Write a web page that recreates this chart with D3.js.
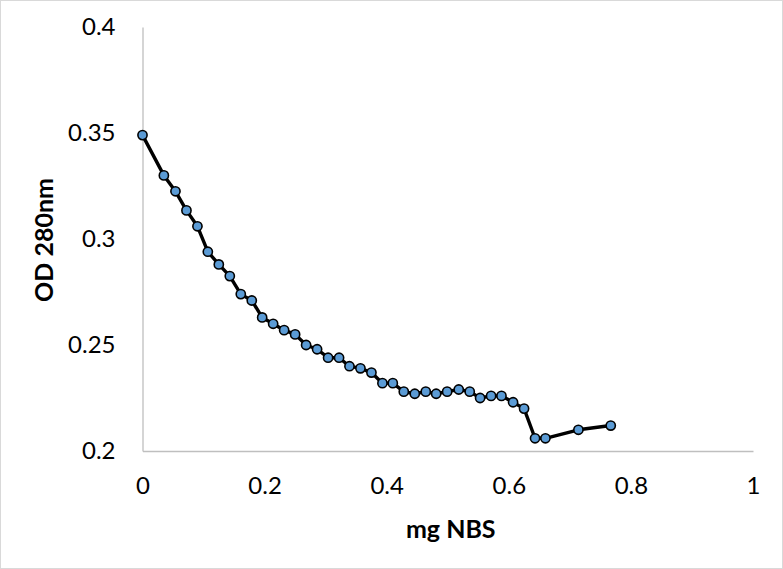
<!DOCTYPE html>
<html>
<head>
<meta charset="utf-8">
<script src="https://cdn.jsdelivr.net/npm/d3@7"></script>
<style>
  body { margin: 0; background: #fff; }
  text { font-family: Lato, "Noto Sans", sans-serif; }
</style>
</head>
<body>
<div id="chart"></div>
<script>
// values
const mgNBS = [0, 0.035, 0.054, 0.072, 0.090, 0.107, 0.125, 0.143, 0.161, 0.179,
  0.196, 0.214, 0.232, 0.250, 0.268, 0.286, 0.304, 0.322, 0.339, 0.357,
  0.375, 0.393, 0.410, 0.428, 0.446, 0.464, 0.481, 0.499, 0.518, 0.536,
  0.553, 0.571, 0.588, 0.607, 0.625, 0.643, 0.660, 0.714, 0.767];
const od280 = [0.349, 0.330, 0.3225, 0.3135, 0.306, 0.294, 0.288, 0.2825, 0.274, 0.271,
  0.263, 0.260, 0.257, 0.255, 0.250, 0.248, 0.244, 0.244, 0.240, 0.239,
  0.237, 0.232, 0.232, 0.228, 0.227, 0.228, 0.227, 0.228, 0.229, 0.228,
  0.225, 0.226, 0.226, 0.223, 0.220, 0.206, 0.206, 0.210, 0.212];
const xTicks = [0, 0.2, 0.4, 0.6, 0.8, 1];
const yTicks = [0.2, 0.25, 0.3, 0.35, 0.4];

const width = 783;
const height = 569;
const margin = { top: 27, right: 30, bottom: 118, left: 142.5 };

const svg = d3.select('#chart')
  .append('svg')
    .attr('width', width)
    .attr('height', height);

// outer chart border
svg.append('rect')
  .attr('x', 0.5).attr('y', 0.5)
  .attr('width', width - 1).attr('height', height - 1)
  .attr('fill', 'none')
  .attr('stroke', '#d9d9d9');

const x = d3.scaleLinear().domain([0, 1]).range([margin.left, width - margin.right]);
const y = d3.scaleLinear().domain([0.2, 0.4]).range([height - margin.bottom, margin.top]);

// axes (no tick marks, only labels)
const xAxis = svg.append('g')
  .attr('transform', `translate(0,${y(0.2)})`)
  .call(d3.axisBottom(x).tickValues(xTicks).tickSize(0).tickPadding(26)
    .tickFormat(d => String(d)));
xAxis.select('.domain').attr('stroke', '#bfbfbf').attr('stroke-width', 1.3);
xAxis.selectAll('text').attr('font-size', 24).attr('fill', '#000')
  .attr('font-family', 'Lato, "Noto Sans", sans-serif');

const yAxis = svg.append('g')
  .attr('transform', `translate(${x(0)},0)`)
  .call(d3.axisLeft(y).tickValues(yTicks).tickSize(0).tickPadding(27)
    .tickFormat(d => String(d)));
yAxis.select('.domain').attr('stroke', '#bfbfbf').attr('stroke-width', 1.3);
yAxis.selectAll('text').attr('font-size', 24).attr('fill', '#000')
  .attr('font-family', 'Lato, "Noto Sans", sans-serif');

// axis titles
svg.append('text')
  .attr('x', (x(0) + x(1)) / 2 + 3)
  .attr('y', 538)
  .attr('text-anchor', 'middle')
  .attr('font-size', 25)
  .attr('font-weight', 'bold')
  .text('mg NBS');

svg.append('text')
  .attr('transform', `translate(53,${(y(0.2) + y(0.4)) / 2 + 1}) rotate(-90)`)
  .attr('text-anchor', 'middle')
  .attr('font-size', 25)
  .attr('font-weight', 'bold')
  .text('OD 280nm');

// series
const points = mgNBS.map((d, i) => ({ x: d, y: od280[i] }));

svg.append('path')
  .datum(points)
  .attr('fill', 'none')
  .attr('stroke', '#000')
  .attr('stroke-width', 3.4)
  .attr('stroke-linejoin', 'round')
  .attr('d', d3.line().x(d => x(d.x)).y(d => y(d.y)));

svg.selectAll('circle.pt')
  .data(points)
  .join('circle')
    .attr('class', 'pt')
    .attr('cx', d => x(d.x))
    .attr('cy', d => y(d.y))
    .attr('r', 4.6)
    .attr('fill', '#5b9bd5')
    .attr('stroke', '#000')
    .attr('stroke-width', 1.6);
</script>
</body>
</html>
